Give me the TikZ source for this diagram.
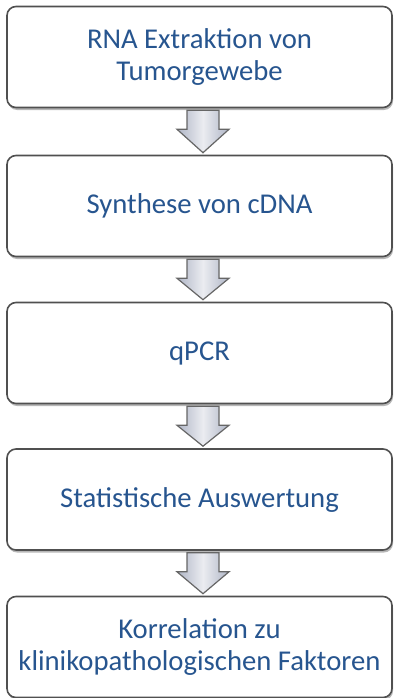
\documentclass[tikz,border=0pt]{standalone}
\usepackage{fontspec}
\setmainfont{Carlito}
\usepackage{xcolor}
\usepackage{tikz}
\usetikzlibrary{calc,shadows}
\definecolor{boxline}{HTML}{505050}
\definecolor{txt}{HTML}{27558F}
\definecolor{arrfill}{HTML}{AFB5C6}
\definecolor{arrline}{HTML}{666666}
\tikzset{
  stepbox/.style={draw=boxline, line width=1.6bp, fill=white, rounded corners=9bp,
    minimum width=385bp, minimum height=101bp, align=center, text=txt,
    font=\fontsize{28.8}{32}\selectfont,
    drop shadow={shadow xshift=1bp, shadow yshift=-2.5bp, opacity=0.4, fill=black!70}},
  blockarrow/.style={draw=arrline, line width=1.2bp, line join=miter,
    left color=arrfill, right color=arrfill, middle color=white!75!arrfill},
}

\begin{document}
\begin{tikzpicture}[x=1bp, y=-1bp]
  \useasboundingbox (0,0) rectangle (395,698);
  % five process steps, top to bottom
  \node[stepbox] (b1) at (199.5,57)  {RNA Extraktion von\\Tumorgewebe};
  \node[stepbox] (b2) at (199.5,206) {Synthese von cDNA};
  \node[stepbox] (b3) at (199.5,353) {qPCR};
  \node[stepbox] (b4) at (199.5,499.5) {Statistische Auswertung};
  \node[stepbox] (b5) at (199.5,647) {Korrelation zu\\klinikopathologischen Faktoren};
  % block arrows in the gaps
  \foreach \a/\b in {b1/b2,b2/b3,b3/b4,b4/b5}{
    \draw[blockarrow] ($(\a.south)+(-12.5,2)$) -- ($(\a.south)+(19.5,2)$)
      -- ($(\a.south)+(19.5,21)$) -- ($(\a.south)+(29.5,21)$)
      -- ($(\b.north)+(3.5,-2)$)
      -- ($(\a.south)+(-22.5,21)$) -- ($(\a.south)+(-12.5,21)$) -- cycle;
  }
\end{tikzpicture}
\end{document}
